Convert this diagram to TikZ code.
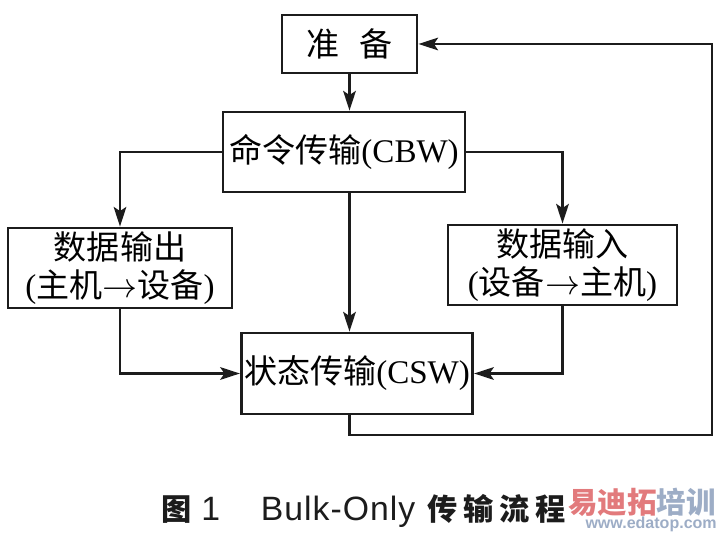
\documentclass[tikz,border=0pt]{standalone}
\usepackage{fontspec}
\setmainfont{Liberation Serif}
\setsansfont{Liberation Sans}[LetterSpace=3]
\newfontfamily\cjk{Noto Sans CJK SC}
\newfontfamily\cjkcap{Noto Sans CJK SC}[LetterSpace=19]
\newfontfamily\urlsans{Liberation Sans}
\usetikzlibrary{positioning,arrows.meta,calc}
\definecolor{ink}{HTML}{1C1C1C}
\definecolor{wmred}{HTML}{E27A7C}
\definecolor{wmblue}{HTML}{9DADC6}
\newcommand{\capcjk}{\cjkcap\bfseries\fontsize{21.5}{26}\selectfont}
\tikzset{
  >={Stealth[length=14pt, width=9pt, inset=3pt]},
  %% nodes
  box/.style     = {draw=ink, line width=2pt, fill=white, inner sep=2pt,
                    align=center, font=\fontsize{23.5}{26.5}\selectfont},
  %% arrows
  flow/.style    = {->, draw=ink, line width=1.7pt},
  %% annotations
  caption/.style = {font=\sffamily\fontsize{24}{26}\selectfont, text=ink, inner sep=0pt},
}

\begin{document}
\begin{tikzpicture}[
  x=0.025cm, y=-0.025cm,
  wm/.style    = {font=\cjk\bfseries\fontsize{21}{22}\selectfont, inner sep=0pt},
  wmurl/.style = {font=\urlsans\bfseries\fontsize{11.4}{12}\selectfont, text=wmblue, inner sep=0pt},
]
\useasboundingbox (0,0) rectangle (722,543);

%% ============ boxes ============
\node[box, minimum width=3.375cm, minimum height=1.45cm] (zhunbei) at (349.5,44) {{\cjk 准\hspace{0.6em}备}};
\node[box, minimum width=6.05cm, minimum height=2cm] (cbw) at (344,152) {{\cjk 命令传输}(CBW)};
\node[box, minimum width=5.6cm, minimum height=2cm] (dout) at (120,268) {{\cjk 数据输出}\\({\cjk 主机}$\rightarrow${\cjk 设备})};
\node[box, minimum width=5.725cm, minimum height=2cm] (din) at (562.5,265) {{\cjk 数据输入}\\({\cjk 设备}$\rightarrow${\cjk 主机})};
\node[box, minimum width=5.75cm, minimum height=2.025cm] (csw) at (357,373.5) {{\cjk 状态传输}(CSW)};
\coordinate (ret) at (712,435);

%% ============ connectors ============
\draw[flow] (zhunbei.south) -- (zhunbei.south |- cbw.north);
\draw[flow] (cbw.west) -| (dout.north);
\draw[flow] (cbw.east) -| (din.north);
\draw[flow] (zhunbei.south |- cbw.south) -- (zhunbei.south |- csw.north);
\draw[flow] (dout.south) |- (csw.west);
\draw[flow] (din.south) |- (csw.east);
\draw[flow] (zhunbei.south |- csw.south) |- (ret) |- (zhunbei.east);

%% ============ caption ============
\node[caption, anchor=west] (cap) at (161,511)
  {{\capcjk 图}\hspace{7pt}1\hspace{29pt}Bulk-Only\hspace{8.5pt}{\capcjk 传输流程}};
\node[wm, anchor=west] (wmtext) at (568,502) {\textcolor{wmred}{易迪拓}\textcolor{wmblue}{培训}};
\node[wmurl, anchor=east] (wmurl) at (717,524) {www.edatop.com};

\end{tikzpicture}
\end{document}
